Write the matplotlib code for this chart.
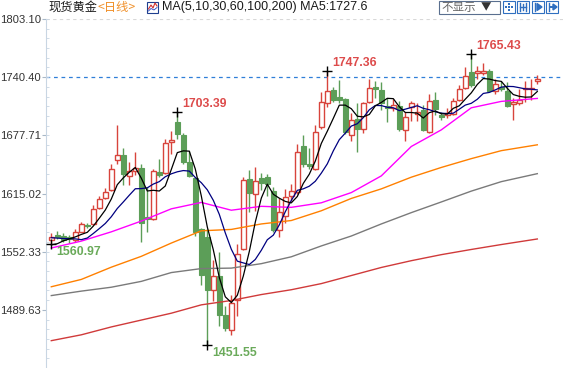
import matplotlib
matplotlib.use("Agg")
import matplotlib.pyplot as plt
from matplotlib.patches import Rectangle
import numpy as np

# ---------------- data ----------------
opens = [1564.7, 1570.2, 1568.7, 1567.7, 1565.3, 1574.0, 1581.1, 1581.8, 1599.4, 1610.0,
         1618.8, 1650.6, 1656.9, 1633.6, 1639.2, 1642.4, 1589.6, 1587.1, 1638.2, 1637.1,
         1671.0, 1692.1, 1677.6, 1648.8, 1632.2, 1577.2, 1567.7, 1510.6, 1526.1, 1483.9,
         1468.0, 1499.7, 1555.4, 1631.1, 1614.6, 1632.2, 1632.9, 1618.1, 1575.5, 1590.6,
         1611.8, 1617.1, 1665.7, 1646.3, 1641.7, 1686.5, 1712.2, 1727.0, 1718.5, 1716.4,
         1677.9, 1695.3, 1684.7, 1714.0, 1729.8, 1727.0, 1709.3, 1707.6, 1709.3, 1683.3,
         1708.7, 1700.6, 1705.1, 1681.5, 1715.4, 1699.8, 1699.2, 1700.9, 1715.7, 1729.1,
         1745.7, 1744.6, 1744.6, 1747.4, 1725.2, 1729.8, 1725.2, 1711.1, 1712.2, 1727.5,
         1727.5, 1735.8]
closes = [1568.4, 1568.1, 1565.3, 1566.3, 1573.0, 1581.8, 1579.5, 1598.8, 1608.9, 1617.1,
          1641.0, 1656.9, 1635.5, 1639.2, 1642.7, 1583.5, 1587.8, 1639.2, 1635.3, 1669.9,
          1672.3, 1678.7, 1648.8, 1633.6, 1573.7, 1527.2, 1511.3, 1526.1, 1483.9, 1469.8,
          1496.5, 1550.1, 1630.0, 1616.0, 1628.4, 1625.8, 1625.2, 1575.5, 1594.9, 1611.0,
          1618.1, 1659.3, 1646.3, 1644.5, 1681.5, 1713.2, 1725.2, 1715.7, 1715.7, 1681.5,
          1693.9, 1684.7, 1712.2, 1728.8, 1728.0, 1712.2, 1706.9, 1710.4, 1685.0, 1697.1,
          1712.2, 1703.4, 1684.0, 1714.3, 1705.8, 1697.4, 1701.6, 1715.0, 1728.0, 1741.5,
          1731.5, 1746.8, 1746.8, 1725.2, 1733.3, 1727.3, 1709.3, 1713.2, 1715.7, 1728.6,
          1728.6, 1738.6]
highs = [1572.7, 1574.8, 1572.7, 1570.5, 1576.6, 1584.3, 1583.2, 1603.0, 1611.8, 1620.5,
         1647.0, 1689.3, 1663.6, 1648.8, 1659.3, 1647.0, 1622.3, 1641.7, 1652.2, 1673.4,
         1682.3, 1703.39, 1680.5, 1661.1, 1632.9, 1578.3, 1576.6, 1543.1, 1551.8, 1493.7,
         1506.1, 1560.7, 1632.9, 1640.6, 1643.5, 1637.1, 1636.4, 1622.3, 1610.0, 1619.9,
         1625.5, 1668.1, 1678.0, 1664.6, 1689.3, 1724.6, 1747.36, 1730.2, 1737.6, 1717.5,
         1701.6, 1712.2, 1714.0, 1738.6, 1736.5, 1735.1, 1717.5, 1716.4, 1714.3, 1703.4,
         1714.3, 1712.2, 1710.4, 1722.8, 1724.6, 1702.7, 1706.9, 1717.5, 1731.5, 1751.0,
         1765.43, 1752.7, 1755.5, 1749.2, 1737.9, 1735.8, 1735.1, 1717.5, 1728.0, 1736.8,
         1738.6, 1742.8]
lows = [1560.97, 1566.3, 1562.4, 1562.1, 1562.4, 1573.0, 1577.9, 1581.1, 1598.8, 1608.9,
        1618.1, 1647.0, 1624.5, 1624.1, 1634.7, 1562.4, 1573.7, 1586.4, 1632.9, 1636.4,
        1657.5, 1673.4, 1647.0, 1632.9, 1569.5, 1516.6, 1451.55, 1499.0, 1472.5, 1467.3,
        1463.0, 1483.1, 1553.6, 1594.9, 1595.9, 1619.2, 1611.8, 1573.7, 1568.0, 1583.5,
        1606.5, 1614.9, 1643.5, 1641.4, 1640.3, 1684.7, 1708.7, 1713.2, 1712.2, 1679.4,
        1671.7, 1659.3, 1680.5, 1712.2, 1717.5, 1705.1, 1692.1, 1703.7, 1682.3, 1671.7,
        1693.2, 1693.2, 1682.6, 1680.5, 1699.8, 1694.5, 1696.3, 1699.8, 1714.3, 1728.0,
        1729.8, 1738.6, 1743.2, 1724.6, 1722.8, 1725.9, 1708.7, 1694.5, 1710.4, 1714.0,
        1715.7, 1733.3]
# closes before the first visible day (needed for MA5 / MA10)
prior_closes = [1572, 1570, 1568, 1575, 1590, 1562, 1550, 1556, 1562]

# longer moving averages read at sampled days
ma_days = [0, 5, 10, 15, 20, 25, 30, 35, 40, 45, 50, 55, 60, 65, 70, 75, 81]
ma30 = [1556.3, 1563.7, 1573.7, 1585.3, 1598.5, 1605.4, 1597.0, 1601.2, 1600.1, 1605.0,
        1616.0, 1634.0, 1665.7, 1683.6, 1707.4, 1714.3, 1717.5]
ma60 = [1514.5, 1522.4, 1535.6, 1547.3, 1561.6, 1574.8, 1576.3, 1582.2, 1585.9, 1596.4,
        1609.7, 1620.0, 1632.6, 1643.1, 1652.6, 1661.2, 1667.5]
ma100 = [1505.0, 1509.8, 1514.0, 1520.3, 1529.8, 1534.1, 1534.6, 1539.4, 1546.8, 1558.5,
         1569.2, 1582.2, 1594.4, 1605.9, 1617.6, 1627.8, 1636.4]
ma200 = [1456.4, 1462.7, 1471.2, 1478.6, 1486.0, 1495.0, 1499.7, 1506.1, 1511.3, 1517.9,
         1526.6, 1535.3, 1542.6, 1549.1, 1554.7, 1560.0, 1566.0]

y_ticks = [1489.63, 1552.33, 1615.02, 1677.71, 1740.40, 1803.10]
ref_line = 1740.40
ma_label = "MA(5,10,30,60,100,200) MA5:1727.6"
marks = [(21, 1703.39, "high"), (46, 1747.36, "high"), (70, 1765.43, "high"),
         (26, 1451.55, "low"), (0, 1560.97, "low")]

# ---------------- figure ----------------
W, H = 563, 368
fig = plt.figure(figsize=(W / 100, H / 100), dpi=100)
fig.patch.set_facecolor("white")
ax = fig.add_axes([46 / W, 0, (W - 46) / W, 349 / H])
ax.set_facecolor("white")

UP = "#d8443c"
DOWN = "#5c9e58"
n = len(closes)
x = np.arange(n)
bw = 0.78

for i in range(n):
    o, c, h, l = opens[i], closes[i], highs[i], lows[i]
    up = c >= o
    col = UP if up else DOWN
    ax.vlines(i, l, h, color=col, linewidth=1.0, zorder=2)
    bot, top = min(o, c), max(o, c)
    hgt = max(top - bot, 0.9)
    if up:
        ax.add_patch(Rectangle((i - bw / 2, bot), bw, hgt, facecolor="white",
                               edgecolor=col, linewidth=1.0, zorder=3))
    else:
        ax.add_patch(Rectangle((i - bw / 2, bot), bw, hgt, facecolor=col,
                               edgecolor=col, linewidth=0.8, zorder=3))

# MA5 / MA10 from closes
allc = np.array(prior_closes + closes)
k0 = len(prior_closes)
ma5 = [allc[k0 + i - 4:k0 + i + 1].mean() for i in range(n)]
ma10 = [allc[k0 + i - 9:k0 + i + 1].mean() for i in range(n)]

ax.plot(ma_days, ma200, color="#d03a3a", lw=1.0, zorder=4)
ax.plot(ma_days, ma100, color="#7a7a7a", lw=1.0, zorder=4)
ax.plot(ma_days, ma60, color="#ff8000", lw=1.0, zorder=4)
ax.plot(ma_days, ma30, color="#ff00ff", lw=1.0, zorder=4)
ax.plot(x, ma10, color="#000080", lw=0.9, zorder=5)
ax.plot(x, ma5, color="black", lw=0.9, zorder=5)

ax.axhline(ref_line, color="#2f7fd8", lw=0.9, ls=(0, (3, 3)), zorder=1)
ax.axhline(y_ticks[-1], color="#d8d8d8", lw=0.8, ls=(0, (3, 3)), zorder=1)

for i, val, kind in marks:
    ax.plot(i, val, marker="+", color="black", markersize=7, mew=1.0, zorder=6)
    if kind == "high":
        ax.annotate(f"{val:.2f}", (i, val), xytext=(5, 8), textcoords="offset pixels",
                    ha="left", va="center", color="#dd4b4b", fontsize=8.8,
                    fontweight="bold", family="Liberation Sans", zorder=7)
    else:
        ax.annotate(f"{val:.2f}", (i, val), xytext=(5, -8), textcoords="offset pixels",
                    ha="left", va="center", color="#6aaa5a", fontsize=8.8,
                    fontweight="bold", family="Liberation Sans", zorder=7)

ax.set_xlim((46 - 51.3) / 6, (W - 51.3) / 6)
ax.set_ylim(1434.17, 1803.10)
ax.set_yticks(y_ticks)
ax.set_yticklabels([f"{v:.2f}" for v in y_ticks])
ax.set_yticks(np.arange(1489.63 - 62.695, 1810, 62.695 / 6), minor=True)
ax.set_xticks([])
for s in ["top", "right", "bottom"]:
    ax.spines[s].set_visible(False)
ax.spines["left"].set_color("#c9d6e3")
ax.tick_params(axis="y", which="major", length=3, color="#a9b8c8", pad=0.5,
               labelsize=8.1, labelcolor="#333333")
ax.tick_params(axis="y", which="minor", length=2, direction="in", color="#c9d6e3")
for lab in ax.get_yticklabels():
    lab.set_family("Liberation Sans")

# ---------------- header overlay (pixel coordinates) ----------------
ov = fig.add_axes([0, 0, 1, 1], zorder=10)
ov.set_xlim(0, W)
ov.set_ylim(H, 0)
ov.axis("off")
ov.patch.set_alpha(0)

cjk = ["Noto Sans CJK SC", "DejaVu Sans"]
ov.text(48.5, 7, "现货黄金", family=cjk, fontsize=8.8, color="#1a1a1a", va="center", ha="left")
ov.text(97.5, 7, "<日线>", family=cjk, fontsize=8.8, color="#f0902a", va="center", ha="left")
# small chart icon
ov.add_patch(Rectangle((147, 1.5), 11, 11, fill=False, edgecolor="#1f3f8f", lw=0.8))
ov.plot([148.5, 151, 153, 155, 157], [9, 5, 8, 3, 6], color="#d03030", lw=0.8)
ov.plot([148.5, 151, 154, 157], [11, 8.5, 10, 7.5], color="#2040c0", lw=0.6)
ov.text(161.5, 7, ma_label, family="Liberation Sans", fontsize=9, color="#1a1a1a",
        va="center", ha="left")

# "不显示▼" selector
ov.add_patch(Rectangle((438.5, 0.5), 61, 13, fill=False, edgecolor="#5a6f8f", lw=0.8))
ov.text(441, 7.2, "不显示", family=cjk, fontsize=8.3, color="#666666", va="center", ha="left")
ov.text(481, 7.2, "▼", family=cjk, fontsize=7.5, color="#333333", va="center", ha="left")

# tool buttons
bcol = "#2f6fc0"
for bx in [503, 517, 532, 546]:
    ov.add_patch(Rectangle((bx, 1), 12, 12, fill=False, edgecolor=bcol, lw=0.8))
# button 1: cross of dots
for dx, dy in [(0, -3), (0, 3), (-3, 0), (3, 0), (0, 0)]:
    ov.add_patch(Rectangle((509 + dx - 1, 7 + dy - 1), 2, 2, color=bcol, lw=0))
# button 2: |-| with bars
ov.plot([520, 520], [3, 11], color=bcol, lw=1.0)
ov.plot([526, 526], [3, 11], color=bcol, lw=1.0)
ov.plot([520, 526], [7, 7], color=bcol, lw=1.0)
ov.plot([523, 523], [4, 10], color=bcol, lw=1.0)
# button 3: |▶
ov.plot([535, 535], [3, 11], color=bcol, lw=1.0)
ov.fill([537, 537, 542], [3.5, 10.5, 7], color=bcol)
# button 4: |→
ov.plot([549, 549], [3, 11], color=bcol, lw=1.0)
ov.plot([550, 556], [7, 7], color=bcol, lw=1.4)
ov.fill([553, 553, 557], [4, 10, 7], color=bcol)

fig.savefig("out.png", dpi=100, facecolor="white")
